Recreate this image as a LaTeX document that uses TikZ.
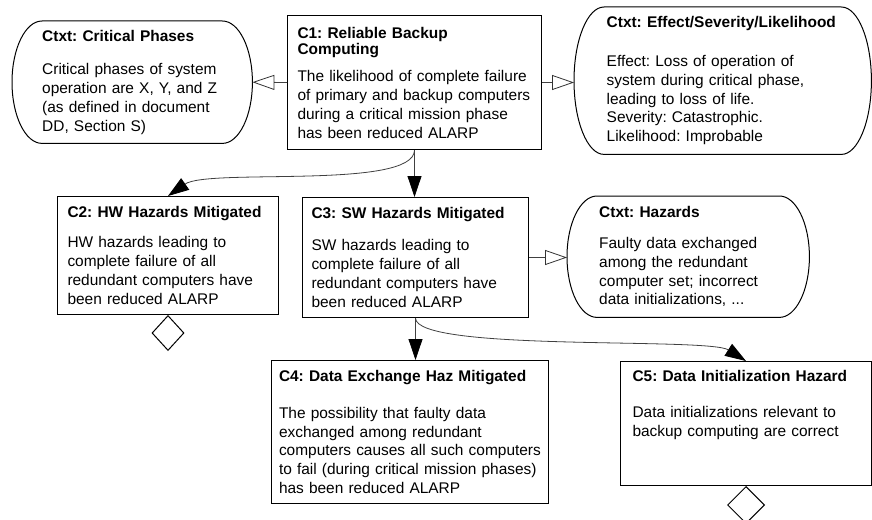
\documentclass[tikz,border=0pt]{standalone}
\usepackage{fontspec}
\setmainfont{Liberation Sans}
\usetikzlibrary{arrows.meta, calc, shapes.geometric}
\hyphenpenalty=10000
\exhyphenpenalty=10000

\tikzset{
  goal/.style={draw, line width=1pt, anchor=north west, inner sep=0pt, align=left,
    font=\fontsize{15.45}{18.8}\selectfont\frenchspacing},
  ctxt/.style={anchor=north west, inner sep=0pt, align=left,
    font=\fontsize{15.45}{18.8}\selectfont\frenchspacing},
  undev/.style={draw, diamond, line width=1pt, inner sep=0pt, anchor=north},
  solved/.style={draw=black!75, line width=0.8pt, -{Triangle[length=21pt,width=14pt,color=black]}},
  incontext/.style={draw=black!75, line width=0.8pt, -{Triangle[open,length=22pt,width=15pt,color=black!80]}},
}

\begin{document}
\begin{tikzpicture}[x=1pt, y=-1pt]
    \clip (0,0) rectangle (872,519);

    % goals
    \node[goal, minimum width=254pt, minimum height=134pt, text width=234pt] (c1) at (287,15)
        {\textbf{C1: Reliable Backup}\\[-2pt]\textbf{Computing}\\[8pt]
         The likelihood of complete failure\\of primary and backup computers\\
         during a critical mission phase\\has been reduced ALARP};
    \node[goal, minimum width=221pt, minimum height=118pt, text width=201pt] (c2) at (57,196)
        {\textbf{C2: HW Hazards Mitigated}\\[11pt]
         HW hazards leading to\\complete failure of all\\redundant computers have\\been reduced ALARP};
    \node[goal, minimum width=226pt, minimum height=120pt, text width=208pt] (c3) at (302,197)
        {\textbf{C3: SW Hazards Mitigated}\\[13pt]
         SW hazards leading to\\complete failure of all\\redundant computers have\\been reduced ALARP};
    \node[goal, minimum width=277pt, minimum height=143pt, text width=262pt] (c4) at (271,360)
        {\textbf{C4: Data Exchange Haz Mitigated}\\[18pt]
         The possibility that faulty data\\exchanged among redundant\\
         computers causes all such computers\\to fail (during critical mission phases)\\
         has been reduced ALARP};
    \node[goal, minimum width=251pt, minimum height=124pt, text width=227pt, text depth=95pt] (c5) at (620,361)
        {\textbf{C5: Data Initialization Hazard}\\[17pt]
         Data initializations relevant to\\backup computing are correct};

    % contexts
    \node[ctxt, minimum width=240pt, minimum height=122pt, text width=180pt] (crit) at (12,21)
        {\textbf{Ctxt: Critical Phases}\\[15pt]
         Critical phases of system\\operation are X, Y, and Z\\(as defined in document\\DD, Section S)};
    \node[ctxt, minimum width=297pt, minimum height=147pt, text width=232pt] (effect) at (574,7)
        {\textbf{Ctxt: Effect/Severity/Likelihood}\\[20pt]
         Effect: Loss of operation of\\system during critical phase,\\leading to loss of life.\\
         Severity: Catastrophic.\\Likelihood: Improbable};
    \node[ctxt, minimum width=242pt, minimum height=121pt, text width=178pt] (hazards) at (567,196)
        {\textbf{Ctxt: Hazards}\\[12pt]
         Faulty data exchanged\\among the redundant\\computer set; incorrect\\data initializations, ...};

    \foreach \c in {crit, effect, hazards}
        \draw[line width=1pt] let \p1=(\c.north), \p2=(\c.south), \n1={0.5*(\y1-\y2)} in
            ([xshift=30pt]\c.north west) -- ([xshift=-30pt]\c.north east)
            arc[start angle=90, end angle=-90, x radius=30pt, y radius=\n1]
            -- ([xshift=30pt]\c.south west)
            arc[start angle=270, end angle=90, x radius=30pt, y radius=\n1] -- cycle;

    % undeveloped goals
    \node[undev, minimum width=32pt, minimum height=35pt] (c2u) at (c2.south) {};
    \node[undev, minimum width=37pt, minimum height=37pt] (c5u) at (c5.south) {};

    % links
    \draw[incontext] (c1.west) -- (crit.east);
    \draw[incontext] (c1.east) -- (c1.east -| effect.west);
    \draw[incontext] (c3.east) -- (c3.east -| hazards.west);
    \draw[solved] (c1.south) -- (c1.south |- c3.north);
    \draw[solved] (c1.south) .. controls +(0,40) and +(40,-28) .. (c2.north);
    \draw[solved] (c3.south) -- (c3.south |- c4.north);
    \draw[solved] (c3.south) .. controls +(0,34) and +(-38,-24) .. (c5.north);
\end{tikzpicture}
\end{document}
